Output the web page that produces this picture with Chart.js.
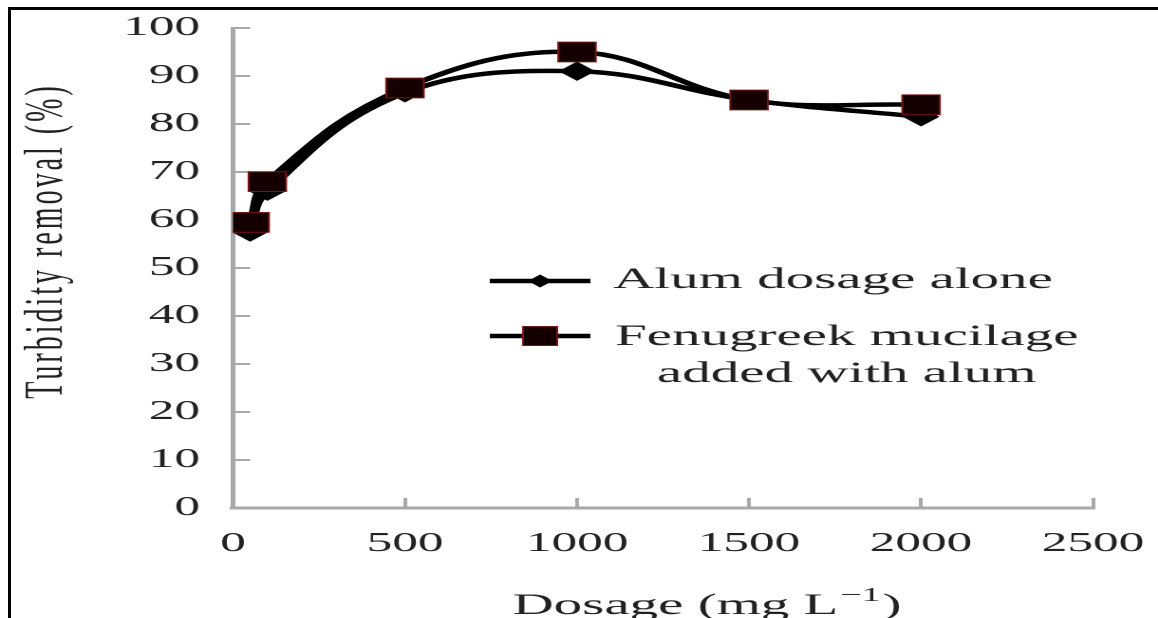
<!DOCTYPE html>
<html>
<head>
<meta charset="utf-8">
<script src="https://cdn.jsdelivr.net/npm/chart.js@4.4.0/dist/chart.umd.min.js"></script>
<style>
  html, body { margin: 0; padding: 0; background: #fff; overflow: hidden; }
  #frame { position: absolute; left: 8px; top: 7px; width: 1200px; height: 700px;
           border-left: 3px solid #000; border-top: 3px solid #000; }
  #wrap { position: absolute; left: 0; top: 0; width: 610px; height: 618px;
          transform: scaleX(1.8984); transform-origin: 0 0; }
</style>
</head>
<body>
<div id="frame"></div>
<div id="wrap"><canvas id="c" width="610" height="618"></canvas></div>
<script>
// ---- data ----
const dosage = [50, 100, 500, 1000, 1500, 2000];
const alumAlone = [57.5, 66, 86.5, 91, 85, 81.5];
const fenugreekAlum = [59.5, 68, 87.5, 95, 85, 84];
const xTicks = [0, 500, 1000, 1500, 2000, 2500];
const yTicks = [0, 10, 20, 30, 40, 50, 60, 70, 80, 90, 100];
const seriesNames = ['Alum dosage alone', ['Fenugreek mucilage', 'added with alum']];
const xTitle = ['Dosage (mg L', '\u22121', ')'];
const yTitle = 'Turbidity removal (%)';

const SERIF = '"Liberation Serif", "Times New Roman", serif';
const TEXT = '#222';
const AXIS = '#a8a8a8';

const toPts = (xs, ys) => xs.map((x, i) => ({ x: x, y: ys[i] }));

const overlay = {
  id: 'overlay',
  afterDraw(chart) {
    const ctx = chart.ctx;
    ctx.save();
    ctx.fillStyle = TEXT;
    // y axis title
    ctx.save();
    ctx.translate(25, 241);
    ctx.rotate(-Math.PI / 2);
    ctx.font = '28px ' + SERIF;
    try { ctx.letterSpacing = '3px'; } catch (e) {}
    ctx.textAlign = 'center';
    ctx.textBaseline = 'middle';
    ctx.fillText(yTitle, 0, 0);
    ctx.restore();

    // x axis title with superscript
    ctx.textAlign = 'left';
    ctx.textBaseline = 'alphabetic';
    let x0 = 270;
    const base = 614;
    ctx.font = '30px ' + SERIF;
    ctx.fillText(xTitle[0], x0, base);
    x0 += ctx.measureText(xTitle[0]).width + 1;
    ctx.font = '20px ' + SERIF;
    ctx.fillText(xTitle[1], x0, base - 13);
    x0 += ctx.measureText(xTitle[1]).width + 1;
    ctx.font = '30px ' + SERIF;
    ctx.fillText(xTitle[2], x0, base);

    // legend
    ctx.strokeStyle = '#000';
    ctx.lineWidth = 4.5;
    ctx.beginPath(); ctx.moveTo(258, 281); ctx.lineTo(311, 281); ctx.stroke();
    ctx.beginPath(); ctx.moveTo(258, 336); ctx.lineTo(311, 336); ctx.stroke();
    // diamond
    const r = 6.5, cx = 284.5;
    ctx.fillStyle = '#000';
    ctx.beginPath();
    ctx.moveTo(cx, 281 - r); ctx.lineTo(cx + r, 281); ctx.lineTo(cx, 281 + r); ctx.lineTo(cx - r, 281);
    ctx.closePath(); ctx.fill();
    // square
    ctx.fillStyle = '#140000';
    ctx.fillRect(cx - 9, 336 - 9.5, 18, 19);
    ctx.strokeStyle = '#7a1414';
    ctx.lineWidth = 1;
    ctx.strokeRect(cx - 9, 336 - 9.5, 18, 19);
    // texts
    ctx.fillStyle = TEXT;
    ctx.font = '30px ' + SERIF;
    ctx.fillText(seriesNames[0], 323, 288);
    ctx.fillText(seriesNames[1][0], 324, 345);
    const w = ctx.measureText(seriesNames[1][0]).width;
    ctx.textAlign = 'center';
    ctx.fillText(seriesNames[1][1], 324 + w / 2, 382);
    ctx.restore();
  }
};

new Chart(document.getElementById('c'), {
  type: 'line',
  data: {
    datasets: [
      {
        label: seriesNames[0],
        data: toPts(dosage, alumAlone),
        borderColor: '#000',
        borderWidth: 4.5,
        pointStyle: 'rectRot',
        pointRadius: 9,
        pointBackgroundColor: '#000',
        pointBorderColor: '#000',
        pointBorderWidth: 1,
        tension: 0.4,
        fill: false,
        order: 1
      },
      {
        label: seriesNames[1].join(' '),
        data: toPts(dosage, fenugreekAlum),
        borderColor: '#000',
        borderWidth: 4.5,
        pointStyle: 'rect',
        pointRadius: 14,
        pointBackgroundColor: '#140000',
        pointBorderColor: '#7a1414',
        pointBorderWidth: 1,
        tension: 0.4,
        fill: false,
        order: 0
      }
    ]
  },
  options: {
    responsive: false,
    animation: false,
    devicePixelRatio: 2,
    layout: { padding: { left: 0, top: 28, right: 34.2, bottom: 0 } },
    plugins: { legend: { display: false }, tooltip: { enabled: false } },
    scales: {
      x: {
        type: 'linear',
        min: 0, max: 2500,
        afterBuildTicks: (s) => { s.ticks = xTicks.map(v => ({ value: v })); },
        afterFit: (s) => { s.height = 110; s.paddingLeft = 0; s.paddingRight = 0; },
        border: { display: true, color: AXIS, width: 3 },
        grid: { drawOnChartArea: false, drawTicks: true, tickLength: -10, color: AXIS, tickWidth: 2 },
        ticks: { color: TEXT, padding: 29.8, maxRotation: 0, autoSkip: false,
                 callback: (v) => String(v),
                 font: { family: SERIF, size: 27 } },
        title: { display: false }
      },
      y: {
        type: 'linear',
        min: 0, max: 100,
        afterBuildTicks: (s) => { s.ticks = yTicks.map(v => ({ value: v })); },
        afterFit: (s) => { s.width = 122.7; s.paddingTop = 0; s.paddingBottom = 0; },
        border: { display: true, color: AXIS, width: 2.5 },
        grid: { drawOnChartArea: false, drawTicks: true, tickLength: -9, color: AXIS, tickWidth: 2 },
        ticks: { color: TEXT, padding: 26.3, autoSkip: false,
                 callback: (v) => String(v),
                 font: { family: SERIF, size: 27 } },
        title: { display: false }
      }
    }
  },
  plugins: [overlay]
});
</script>
</body>
</html>
